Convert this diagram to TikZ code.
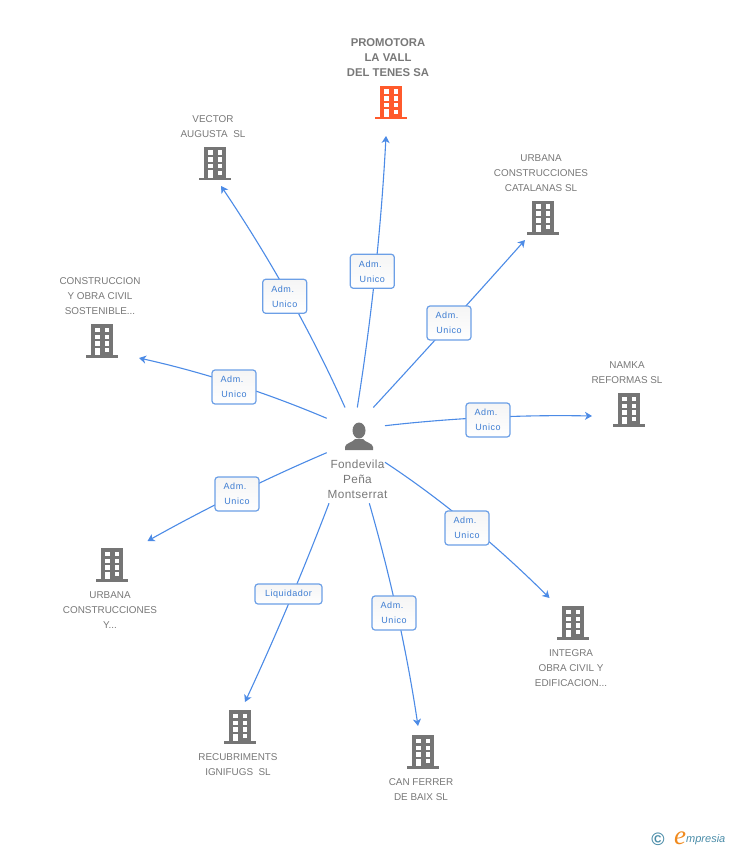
\documentclass[tikz,border=0pt]{standalone}
\usepackage{fontspec}
\setmainfont{Liberation Sans}
\newfontfamily\logofont{Liberation Serif}
\usetikzlibrary{arrows.meta,calc}
\definecolor{linkblue}{HTML}{4C8BE6}
\definecolor{boxblue}{HTML}{6C9FE6}
\definecolor{txtblue}{HTML}{3C7CD2}
\definecolor{txtgray}{HTML}{787878}
\definecolor{icongray}{HTML}{757575}
\definecolor{iconred}{HTML}{FF5A2C}
\definecolor{logoteal}{HTML}{4A8CA8}
\definecolor{logoorange}{HTML}{F08A1E}
\newcommand{\admunico}{Adm.\kern4pt\\Unico}
\tikzset{
  conn/.style={linkblue, line width=1.1pt, -{Stealth[length=7pt,width=8pt,inset=2pt]}},
  role/.style={draw=boxblue, line width=1.2pt, rounded corners=3pt, top color=black!4, bottom color=white, text=txtblue, align=center, inner sep=0pt, minimum height=34pt, minimum width=44pt, font=\fontsize{9}{15}\selectfont\addfontfeatures{LetterSpace=6}},
  firm/.style={text=txtgray, align=center, inner sep=0pt, yshift=-1pt, font=\fontsize{9.9}{15}\selectfont},
  mainfirm/.style={firm, font=\fontsize{11.3}{15}\selectfont\bfseries},
  pics/bldg/.style={code={
    \fill[#1] (-11,-17) rectangle (11,14);
    \fill[#1] (-16,14) rectangle (16,16.5);
    \foreach \r in {-13.5,-6.5,0.3} {
      \fill[white] (-7,\r) rectangle (-2.4,\r+4.2);
      \fill[white] (2.6,\r) rectangle (7,\r+4.2);
    }
    \fill[white] (-7,6.5) rectangle (-2.4,13.8);
    \fill[white] (2.6,7) rectangle (7,11.2);
  }},
  pics/persona/.style={code={
    \fill[icongray] (0,-5.5) ellipse (6.5 and 8);
    \fill[icongray] (-14,14) -- (-14,11) .. controls (-14,7) and (-5,6) .. (-4,3) -- (4,3) .. controls (5,6) and (14,7) .. (14,11) -- (14,14) -- cycle;
  }}
}
\begin{document}
\begin{tikzpicture}[x=1pt,y=-1pt]
\useasboundingbox (0,0) rectangle (728,850);

\node[mainfirm] (promotora) at (388,57) {PROMOTORA\\LA VALL\\DEL TENES SA};
\node[firm] (vector) at (213,125.5) {VECTOR\\AUGUSTA\ \ SL};
\node[firm] (catalanas) at (541,172) {URBANA\\CONSTRUCCIONES\\CATALANAS SL};
\node[firm] (sostenible) at (100,295) {CONSTRUCCION\\Y OBRA CIVIL\\SOSTENIBLE...};
\node[firm] (namka) at (627,371.5) {NAMKA\\REFORMAS SL};
\node[firm] (urbanay) at (110,609) {URBANA\\CONSTRUCCIONES\\Y...};
\node[firm] (integra) at (571,667) {INTEGRA\\OBRA CIVIL Y\\EDIFICACION...};
\node[firm] (recub) at (238,763.5) {RECUBRIMENTS\\IGNIFUGS\ \ SL};
\node[firm] (canferrer) at (421,788.5) {CAN FERRER\\DE BAIX SL};

\pic at (391,103) {bldg=iconred};
\pic at (215,164) {bldg=icongray};
\pic at (543,218) {bldg=icongray};
\pic at (102,341) {bldg=icongray};
\pic at (629,410) {bldg=icongray};
\pic at (112,565) {bldg=icongray};
\pic at (573,623) {bldg=icongray};
\pic at (240,727) {bldg=icongray};
\pic at (423,752) {bldg=icongray};

\pic at (359,436) {persona};
\node[firm, yshift=1pt, font=\fontsize{11.8}{15}\selectfont\addfontfeatures{LetterSpace=3}] (fondevila) at (357.5,479) {Fondevila\\Peña\\Montserrat};

\coordinate (s1) at (357.3,407.5);
\coordinate (s2) at (345,407.5);
\coordinate (s3) at (373.3,407.5);
\coordinate (s4) at (385,425.7);
\coordinate (s5) at (385,462.3);
\coordinate (s6) at (369.3,503.3);
\coordinate (s7) at (329,503.3);
\coordinate (s8) at (326.7,452.7);
\coordinate (s9) at (326.7,418.3);
\coordinate (t1) at (386,136);
\coordinate (t2) at (221,186);
\coordinate (t3) at (525,240);
\coordinate (t4) at (592,416);
\coordinate (t5) at (549.5,598);
\coordinate (t6) at (418,726);
\coordinate (t7) at (245,702);
\coordinate (t8) at (147.5,541);
\coordinate (t9) at (139,358);
\coordinate (c1) at (378.9,271.5);
\coordinate (c2) at (295,296);
\coordinate (c3) at (450.6,323.6);
\coordinate (c4) at (488,414);
\coordinate (c5) at (467.3,516.5);
\coordinate (c6) at (401.3,614.5);
\coordinate (c7) at (291,603);
\coordinate (c8) at (237,491);
\coordinate (c9) at (234.7,379.3);

\foreach \i in {1,...,9} {
  \draw[conn] (s\i) .. controls ($(s\i)!0.667!(c\i)$) and ($(t\i)!0.667!(c\i)$) .. (t\i);
}

\node[role] (r1) at (372.3,271.3) {\admunico};
\node[role] (r2) at (284.7,296.3) {\admunico};
\node[role] (r3) at (449,323) {\admunico};
\node[role] (r4) at (488,420) {\admunico};
\node[role] (r5) at (467,528) {\admunico};
\node[role] (r6) at (394,613) {\admunico};
\node[role, minimum height=20pt, minimum width=67pt] (r7) at (288.5,594) {Liquidador};
\node[role] (r8) at (237,494) {\admunico};
\node[role] (r9) at (234,387) {\admunico};

\node[text=logoteal, inner sep=0pt, font=\fontsize{18}{18}\selectfont\bfseries] (copyr) at (658,839) {©};
\node[text=logoorange, inner sep=0pt, font=\logofont\fontsize{27}{27}\selectfont\itshape] (logoe) at (680,838) {e};
\node[text=logoteal, inner sep=0pt, anchor=west, font=\fontsize{11}{12}\selectfont\itshape] (logotxt) at (686,840) {mpresia};
\end{tikzpicture}
\end{document}
